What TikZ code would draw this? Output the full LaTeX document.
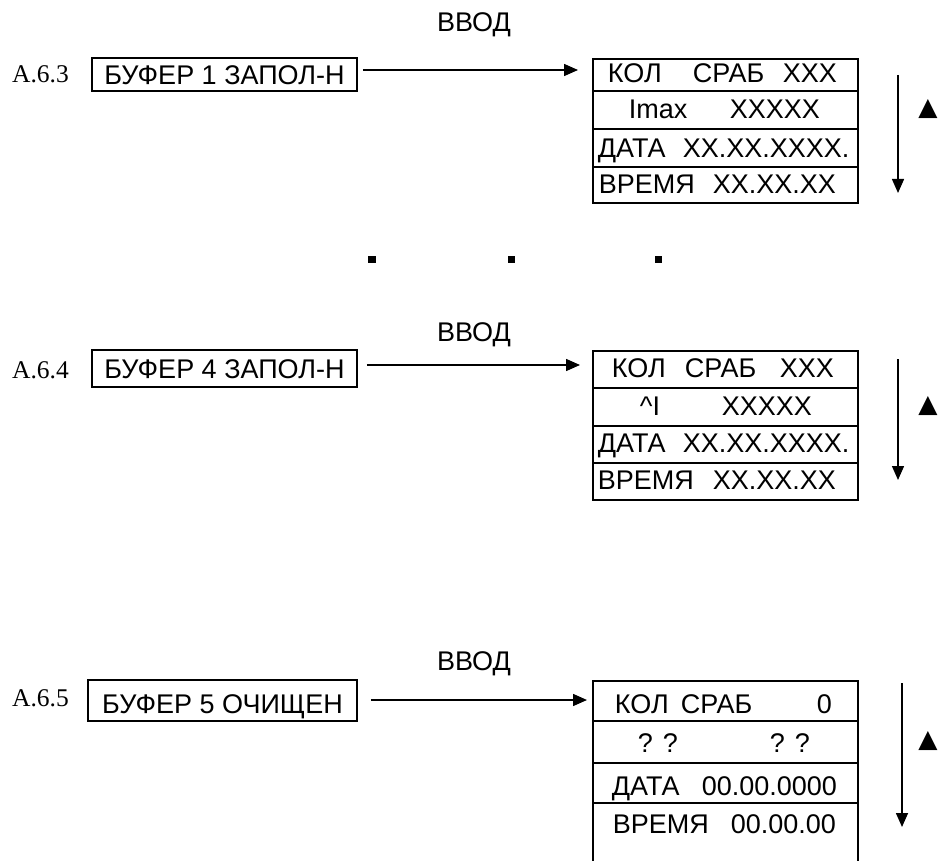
\documentclass[tikz,border=0pt]{standalone}
\usepackage{fontspec}
\setmainfont{Liberation Serif}
\setsansfont{Liberation Sans}
\newfontfamily\symfont{DejaVu Sans}
\usetikzlibrary{arrows.meta}
\newcommand\wrd[2]{\rlap{\hspace*{#1pt}#2}}
\newcommand\rowtxt[1]{\makebox[265pt][l]{#1}}
\tikzset{
  sans/.style={font=\sffamily\fontsize{27}{30}\selectfont},
  lbl/.style={font=\rmfamily\fontsize{25.5}{28}\selectfont, inner sep=0pt, anchor=base west},
  vvod/.style={sans, inner sep=0pt, anchor=base},
  bufbox/.style={sans, draw, line width=1.8pt, inner sep=0pt, text depth=0pt},
  rowbox/.style={sans, draw, line width=1.8pt, inner sep=0pt, minimum width=265pt, anchor=north west},
  conn/.style={line width=1.5pt, -{Triangle[length=14pt,width=12pt]}},
  tri/.style={font=\symfont\fontsize{25}{28}\selectfont, inner sep=0pt},
  dotsq/.style={fill=black}
}
\begin{document}
\begin{tikzpicture}[x=1pt,y=-1pt]
\useasboundingbox (0,0) rectangle (939,861);

% ---------- block 1 ----------
\node[lbl] (l1) at (12,83) {A.6.3};
\node[bufbox, minimum width=265pt, minimum height=33pt, text height=21pt] (b1) at (224.5,74.5) {БУФЕР 1 ЗАПОЛ-Н};
\node[vvod] (v1) at (474,32) {ВВОД};
\node[rowbox, minimum height=32pt, text height=16pt, text depth=0pt] (r1a) at (592,58)
  {\rowtxt{\wrd{15}{КОЛ}\wrd{100}{СРАБ}\wrd{190}{XXX}}};
\node[rowbox, minimum height=38pt, text height=18pt, text depth=0pt] (r1b) at (592,90)
  {\rowtxt{\wrd{36}{Imax}\wrd{137}{XXXXX}}};
\node[rowbox, minimum height=38pt, text height=20pt, text depth=0pt] (r1c) at (592,128)
  {\rowtxt{\wrd{5}{ДАТА}\wrd{90}{XX.XX.XXXX.}}};
\node[rowbox, minimum height=36pt, text height=18pt, text depth=0pt] (r1d) at (592,166)
  {\rowtxt{\wrd{6}{ВРЕМЯ}\wrd{120}{XX.XX.XX}}};
\draw[conn, shorten >=14pt] ([xshift=5pt,yshift=4.5pt]b1.east) -- ([yshift=4.5pt]b1.east -| r1a.west);
\coordinate (d1s) at (898,75);
\coordinate (d1e) at (898,193);
\draw[conn] (d1s) -- (d1e);
\node[tri] (t1) at (928,109) {▲};

% ---------- dots ----------
\fill[dotsq] (368,255.5) rectangle ++(7.5,7);
\fill[dotsq] (507.5,255.5) rectangle ++(7.5,7);
\fill[dotsq] (654.5,255.5) rectangle ++(7.5,7);

% ---------- block 2 ----------
\node[lbl] (l2) at (12,378) {A.6.4};
\node[bufbox, minimum width=265pt, minimum height=37pt, text height=19pt] (b2) at (224.5,368.5) {БУФЕР 4 ЗАПОЛ-Н};
\node[vvod] (v2) at (474,341) {ВВОД};
\node[rowbox, minimum height=37pt, text height=17pt, text depth=0pt] (r2a) at (592,350)
  {\rowtxt{\wrd{19}{КОЛ}\wrd{92}{СРАБ}\wrd{187}{XXX}}};
\node[rowbox, minimum height=38pt, text height=18pt, text depth=0pt] (r2b) at (592,387)
  {\rowtxt{\wrd{47}{\textasciicircum I}\wrd{129}{XXXXX}}};
\node[rowbox, minimum height=37pt, text height=17pt, text depth=0pt] (r2c) at (592,425)
  {\rowtxt{\wrd{5}{ДАТА}\wrd{90}{XX.XX.XXXX.}}};
\node[rowbox, minimum height=37pt, text height=17pt, text depth=0pt] (r2d) at (592,462)
  {\rowtxt{\wrd{5}{ВРЕМЯ}\wrd{120}{XX.XX.XX}}};
\draw[conn, shorten >=12pt] ([xshift=9pt,yshift=3.5pt]b2.east) -- ([yshift=3.5pt]b2.east -| r2a.west);
\coordinate (d2s) at (898,359);
\coordinate (d2e) at (898,480);
\draw[conn] (d2s) -- (d2e);
\node[tri] (t2) at (928,406) {▲};

% ---------- block 3 ----------
\node[lbl] (l3) at (12,706) {A.6.5};
\node[bufbox, minimum width=269pt, minimum height=41pt, text height=25pt] (b3) at (222.5,700.5) {БУФЕР 5 ОЧИЩЕН};
\node[vvod] (v3) at (474,670) {ВВОД};
\node[rowbox, minimum height=40pt, text height=26pt, text depth=0pt] (r3a) at (592,680)
  {\rowtxt{\wrd{22}{КОЛ}\wrd{88}{СРАБ}\wrd{224}{0}}};
\node[rowbox, minimum height=42pt, text height=22pt, text depth=0pt] (r3b) at (592,720)
  {\rowtxt{\wrd{45}{? ?}\wrd{177}{? ?}}};
\node[rowbox, minimum height=40pt, text height=26pt, text depth=0pt] (r3c) at (592,762)
  {\rowtxt{\wrd{19}{ДАТА}\wrd{109}{00.00.0000}}};
\node[rowbox, minimum height=62pt, text height=10pt, text depth=10pt] (r3d) at (592,802)
  {\rowtxt{\wrd{20}{ВРЕМЯ}\wrd{138}{00.00.00}}};
\draw[conn, shorten >=5pt] ([xshift=13pt,yshift=0.5pt]b3.east) -- ([yshift=0.5pt]b3.east -| r3a.west);
\coordinate (d3s) at (902,683);
\coordinate (d3e) at (902,827);
\draw[conn] (d3s) -- (d3e);
\node[tri] (t3) at (928,741) {▲};
\end{tikzpicture}
\end{document}
